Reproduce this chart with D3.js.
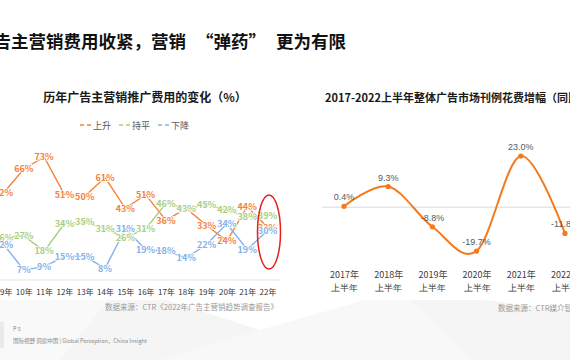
<!DOCTYPE html>
<html><head><meta charset="utf-8">
<script src="https://cdn.jsdelivr.net/npm/d3@7/dist/d3.min.js"></script>
<style>
html,body{margin:0;padding:0;background:#fff;}
svg{display:block;font-family:"Noto Sans CJK SC","Noto Sans",sans-serif;}
</style></head>
<body>
<svg id="c" width="570" height="360"></svg>
<script>
// ---------- DATA ----------
const mainTitleParts = ["广告主营销费用收紧，营销", "“", "弹药", "”", "更为有限"];
const leftTitle = "历年广告主营销推广费用的变化（%）";
const leftCategories = ["09年","10年","11年","12年","13年","14年","15年","16年","17年","18年","19年","20年","21年","22年"];
const seriesNames = ["上升","持平","下降"];
const riseValues = [52,66,73,51,50,61,43,51,36,43,33,24,44,32];
const flatValues = [26,27,18,34,35,31,26,31,46,43,45,42,38,39];
const fallValues = [22,7,9,15,15,8,31,19,18,14,22,34,19,30];
const leftSource = "数据来源：CTR《2022年广告主营销趋势调查报告》";

const rightTitle = "2017-2022上半年整体广告市场刊例花费增幅（同比）";
const rightYears = ["2017年","2018年","2019年","2020年","2021年","2022年"];
const rightSub = "上半年";
const rightValues = [0.4,9.3,-8.8,-19.7,23.0,-11.8];
const rightSource = "数据来源：CTR媒介智讯";

const pageNo = "P 5";
const footer = "国际视野 洞察中国 | Global Perception，China Insight";

// ---------- DRAW ----------
const svg = d3.select("#c");

// faint low-poly background near the bottom
const bgPolys = [
  [[0,300],[120,285],[60,360],[0,360]],
  [[120,285],[260,330],[160,360],[60,360]],
  [[260,330],[400,290],[470,360],[160,360]],
  [[400,290],[570,310],[570,360],[470,360]]
];
svg.append("g").selectAll("path").data(bgPolys).join("path")
  .attr("d", d => "M" + d.join("L") + "Z")
  .attr("fill", (d,i) => ["#f7f7f7","#f3f3f3","#f6f6f6","#f2f2f2"][i])
  .attr("opacity", 0.8);
svg.append("rect").attr("x",0).attr("y",0).attr("width",570).attr("height",300).attr("fill","#fff");
svg.append("rect").attr("x",0).attr("y",322).attr("width",4).attr("height",26).attr("fill","#eaeaea");

// main title (full-width quotes emulated with extra spacing)
const mt = svg.append("text").attr("x", -24).attr("y", 48)
  .attr("font-size", 17.5).attr("font-weight", "bold").attr("fill", "#111");
const mtDx = [0, 10, 0, 0, 10];
mainTitleParts.forEach((p,i) => mt.append("tspan").attr("dx", mtDx[i]).text(p));

// ---------- LEFT CHART ----------
const colors = ["#F5823A","#A9CF7E","#84B2E8"];
const xL = d3.scalePoint().domain(leftCategories).range([3.5, 267.5]);
const yL = d3.scaleLinear().domain([0, 73]).range([282, 157]);

svg.append("text").attr("x", 145).attr("y", 102).attr("text-anchor","middle")
  .attr("font-size", 12).attr("font-weight","bold").attr("fill","#1a1a1a").text(leftTitle);

// legend
const legX = [80, 119, 158];
const leg = svg.append("g");
seriesNames.forEach((n,i) => {
  leg.append("line").attr("x1", legX[i]).attr("x2", legX[i]+12).attr("y1",125).attr("y2",125)
    .attr("stroke", colors[i]).attr("stroke-width",1.5).attr("stroke-dasharray","4,3");
  leg.append("text").attr("x", legX[i]+13).attr("y", 128.5).attr("font-size", 9).attr("fill","#595959").text(n);
});

// axis line
svg.append("line").attr("x1",0).attr("x2",280).attr("y1",280).attr("y2",280).attr("stroke","#e3e3e3").attr("stroke-width",1);

const axL = svg.append("g").attr("transform","translate(0,289)")
  .call(d3.axisBottom(xL).tickSize(0).tickPadding(0));
axL.select(".domain").remove();
axL.selectAll("text").attr("font-size",8).attr("fill","#333").attr("font-family","Noto Sans CJK SC");

const allSeries = [riseValues, flatValues, fallValues];
const lineL = d3.line().x((d,i) => xL(leftCategories[i])).y(d => yL(d));
allSeries.forEach((vals,i) => {
  svg.append("path").attr("d", lineL(vals)).attr("fill","none")
    .attr("stroke", colors[i]).attr("stroke-width",1.4);
});
allSeries.forEach((vals,i) => {
  svg.append("g").selectAll("text").data(vals).join("text")
    .attr("x", (d,j) => xL(leftCategories[j]))
    .attr("y", d => yL(d) + 3.3)
    .attr("text-anchor","middle")
    .attr("font-size", 9).attr("font-weight","bold")
    .attr("fill", colors[i])
    .attr("stroke","#fff").attr("stroke-width",1.5).attr("paint-order","stroke")
    .text(d => d + "%");
});

// red ellipse
svg.append("ellipse").attr("cx", 269).attr("cy", 232).attr("rx", 11.5).attr("ry", 37)
  .attr("fill","none").attr("stroke","#E8201C").attr("stroke-width",1.5);

svg.append("text").attr("x", 278).attr("y", 310).attr("text-anchor","end")
  .attr("font-size", 7.5).attr("fill","#999").text(leftSource);

// ---------- RIGHT CHART ----------
const xR = d3.scalePoint().domain(rightYears).range([344, 565]);
const yR = d3.scaleLinear().domain([-20, 25]).range([251.7, 151.6]);

svg.append("text").attr("x", 325).attr("y", 102)
  .attr("font-size", 11).attr("font-weight","bold").attr("fill","#1a1a1a").text(rightTitle);

svg.append("line").attr("x1",322).attr("x2",570).attr("y1",yR(0)).attr("y2",yR(0))
  .attr("stroke","#d9d9d9").attr("stroke-width",1);

const lineR = d3.line().x((d,i) => xR(rightYears[i])).y(d => yR(d)).curve(d3.curveCatmullRom.alpha(0));
svg.append("path").attr("d", lineR(rightValues)).attr("fill","none")
  .attr("stroke","#F57A1E").attr("stroke-width",2);
svg.append("g").selectAll("circle").data(rightValues).join("circle")
  .attr("cx",(d,i)=>xR(rightYears[i])).attr("cy",d=>yR(d)).attr("r",2.6).attr("fill","#F57A1E");
svg.append("g").selectAll("text").data(rightValues).join("text")
  .attr("x",(d,i)=>xR(rightYears[i])).attr("y",d=>yR(d)-6)
  .attr("text-anchor","middle").attr("font-size",9).attr("fill","#595959")
  .attr("font-family","Liberation Sans, Arial, sans-serif")
  .text(d => d.toFixed(1) + "%");

const axR = svg.append("g").attr("transform","translate(0,272)")
  .call(d3.axisBottom(xR).tickSize(0).tickPadding(0));
axR.select(".domain").remove();
axR.selectAll("text").attr("font-size",9).attr("fill","#404040").attr("font-family","Noto Sans CJK SC");
axR.selectAll(".tick").append("text").attr("y", 13).attr("dy","0.71em")
  .attr("text-anchor","middle").attr("font-size",9).attr("fill","#404040").text(rightSub);

svg.append("text").attr("x", 498).attr("y", 311)
  .attr("font-size", 7.5).attr("fill","#999").text(rightSource);

// footer
svg.append("text").attr("x", 13).attr("y", 331).attr("font-size", 5.5).attr("fill","#888").text(pageNo);
svg.append("text").attr("x", 13).attr("y", 343).attr("font-size", 5.5).attr("fill","#888").text(footer);
</script>
</body></html>
